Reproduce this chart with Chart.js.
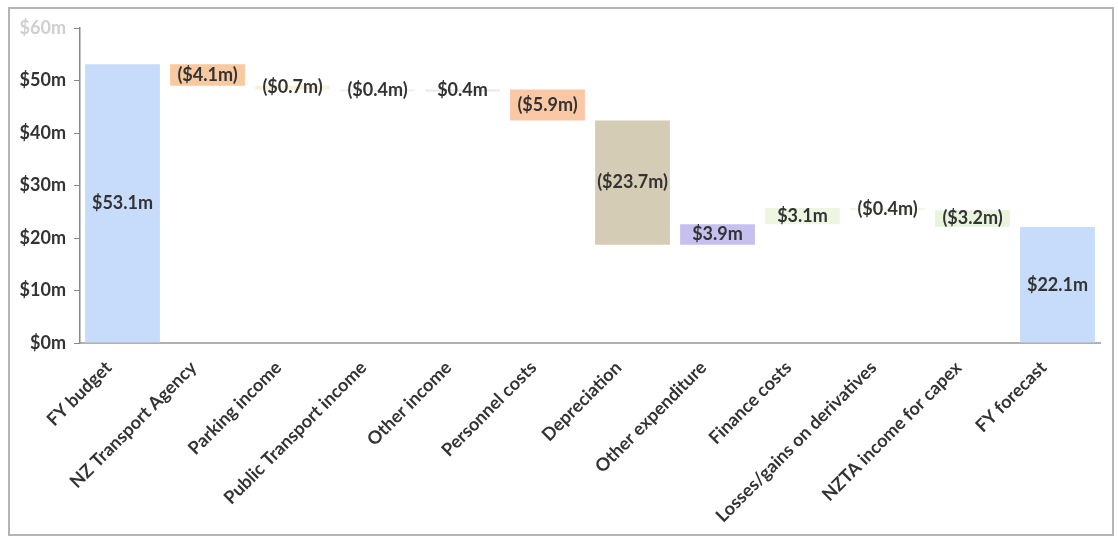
<!DOCTYPE html>
<html>
<head>
<meta charset="utf-8">
<script src="https://cdn.jsdelivr.net/npm/chart.js@4/dist/chart.umd.min.js"></script>
<style>
    html, body { margin: 0; padding: 0; background: #fff; }
    #wrap { position: relative; width: 1118px; height: 539px; }
    #frame { position: absolute; left: 8px; top: 7px; width: 1102px; height: 525px; border: 2px solid #b4b4b4; pointer-events: none; }
</style>
</head>
<body>
<div id="wrap">
    <canvas id="waterfall" width="1118" height="539"></canvas>
    <div id="frame"></div>
</div>
<script>
const categories = ['FY budget', 'NZ Transport Agency', 'Parking income', 'Public Transport income', 'Other income',
    'Personnel costs', 'Depreciation', 'Other expenditure', 'Finance costs', 'Losses/gains on derivatives',
    'NZTA income for capex', 'FY forecast'];
const budgetValue = 53.1;
const movements = [-4.1, -0.7, -0.4, 0.4, -5.9, -23.7, 3.9, 3.1, -0.4, -3.2];
const forecastValue = 22.1;
const barColors = ['#c6dcfa', '#f9c9a0', '#f8f2d2', '#efefef', '#e9e9e9', '#fbc8a6', '#d4ccb4', '#c6c0ef',
    '#eef6e2', '#f4f4ee', '#e9f4dc', '#c6dcfa'];
const yTicks = [0, 10, 20, 30, 40, 50, 60];

function money(v) {
    const s = '$' + Math.abs(v).toFixed(1) + 'm';
    return v < 0 ? '(' + s + ')' : s;
}

// floating bars: [start, end]
const ranges = [[0, budgetValue]];
const labelValues = [budgetValue];
let running = budgetValue;
movements.forEach(m => {
    ranges.push([running, running + m]);
    labelValues.push(m);
    running += m;
});
ranges.push([0, forecastValue]);
labelValues.push(forecastValue);

const barLabels = {
    id: 'barLabels',
    afterDatasetsDraw(chart) {
        const ctx = chart.ctx;
        const meta = chart.getDatasetMeta(0);
        ctx.save();
        ctx.font = 'bold 18px Lato';
        ctx.fillStyle = '#333';
        ctx.textAlign = 'center';
        ctx.textBaseline = 'middle';
        meta.data.forEach((bar, i) => {
            const p = bar.getProps(['x', 'y', 'base'], true);
            ctx.fillText(money(labelValues[i]), p.x, (p.y + p.base) / 2);
        });
        ctx.restore();
    }
};

new Chart(document.getElementById('waterfall'), {
    type: 'bar',
    data: {
        labels: categories,
        datasets: [{
            data: ranges,
            backgroundColor: barColors,
            borderWidth: 0,
            barPercentage: 0.88,
            categoryPercentage: 1.0
        }]
    },
    options: {
        responsive: false,
        animation: false,
        layout: { padding: { left: 8, right: 18, top: 28, bottom: 0 } },
        plugins: {
            legend: { display: false },
            tooltip: { enabled: false }
        },
        scales: {
            x: {
                grid: { display: false },
                border: { display: true, color: '#b0b0b0', width: 2 },
                ticks: {
                    color: '#333',
                    font: { family: 'Lato', size: 18, weight: 'bold' },
                    minRotation: 45,
                    maxRotation: 45,
                    autoSkip: false,
                    labelOffset: -14,
                    padding: 6
                },
                afterFit(scale) { scale.height = 196; }
            },
            y: {
                min: 0,
                max: 60,
                afterBuildTicks(scale) { scale.ticks = yTicks.map(v => ({ value: v })); },
                grid: { drawOnChartArea: false, tickLength: 6, color: '#888' },
                border: { display: true, color: '#888', width: 1.5 },
                ticks: {
                    color: ctx => ctx.tick.value === 60 ? '#cfcfcf' : '#333',
                    font: { family: 'Lato', size: 18, weight: 'bold' },
                    padding: 8,
                    callback: v => '$' + v + 'm'
                },
                afterFit(scale) { scale.width = 72; }
            }
        }
    },
    plugins: [barLabels]
});
</script>
</body>
</html>
